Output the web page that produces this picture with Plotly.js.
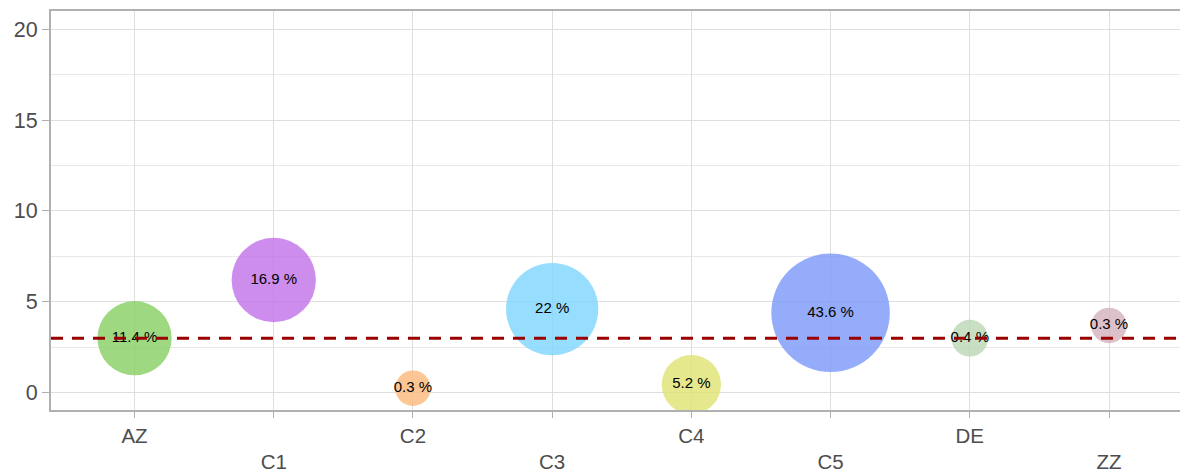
<!DOCTYPE html>
<html>
<head>
<meta charset="utf-8">
<script src="https://cdn.plot.ly/plotly-3.0.1.min.js"></script>
<style>html,body{margin:0;padding:0;overflow:hidden;background:#fff}</style>
</head>
<body>
<div id="chart" style="width:1180px;height:472px"></div>
<script>
// Data
const categories = ["AZ", "C1", "C2", "C3", "C4", "C5", "DE", "ZZ"];
const yValues = [3.0, 6.2, 0.25, 4.6, 0.45, 4.4, 3.0, 3.7];
const shares = [11.4, 16.9, 0.3, 22, 5.2, 43.6, 0.4, 0.3];
const shareLabels = ["11.4 %", "16.9 %", "0.3 %", "22 %", "5.2 %", "43.6 %", "0.4 %", "0.3 %"];
const referenceLevel = 3;

// Styles
const colors = ["#86d062", "#c070e8", "#fdb87a", "#7dd5fc", "#dfe270", "#7a97f9", "#bcd7b5", "#d4b2bd"];
const idx = categories.map((c, i) => i);
const sizes = shares.map(p => 28 + 13.7 * Math.sqrt(p));
const tickText = categories.map((c, i) => (i % 2 === 1 ? "<br>" + c : c));

const trace = {
  type: "scatter",
  mode: "markers+text",
  x: idx,
  y: yValues,
  text: shareLabels,
  textposition: "middle center",
  textfont: {family: "Liberation Sans, Arial, sans-serif", size: 15, color: "#000"},
  marker: {size: sizes, sizemode: "diameter", color: colors, opacity: 0.8, line: {width: 0}},
  hoverinfo: "text",
  showlegend: false
};

const layout = {
  width: 1180,
  height: 472,
  margin: {l: 51, r: 0, t: 11, b: 62},
  paper_bgcolor: "#fff",
  plot_bgcolor: "#fff",
  font: {family: "Liberation Sans, Arial, sans-serif", size: 21, color: "#4d4d4d"},
  xaxis: {
    range: [-0.6, 7.51],
    tickvals: idx,
    ticktext: tickText,
    showgrid: true,
    gridcolor: "#dedede",
    gridwidth: 1,
    zeroline: false,
    showline: true,
    linecolor: "#b0b0b0",
    linewidth: 2,
    mirror: true,
    ticks: "outside",
    ticklen: 6,
    tickcolor: "#b0b0b0",
    tickfont: {size: 20.5, color: "#4d4d4d"}
  },
  yaxis: {
    range: [-0.95, 21],
    dtick: 5,
    tick0: 0,
    showgrid: true,
    gridcolor: "#dedede",
    gridwidth: 1,
    minor: {dtick: 2.5, showgrid: true, gridcolor: "#e8e8e8", gridwidth: 1},
    zeroline: false,
    showline: true,
    linecolor: "#b0b0b0",
    linewidth: 2,
    ticks: "outside",
    ticklen: 7,
    tickcolor: "#b0b0b0",
    tickfont: {size: 21.5, color: "#4d4d4d"}
  },
  shapes: [{
    type: "line",
    xref: "paper",
    yref: "y",
    x0: 0, x1: 1,
    y0: referenceLevel, y1: referenceLevel,
    line: {color: "#9b0000", width: 3, dash: "12px,9px"},
    layer: "above"
  }]
};

Plotly.newPlot("chart", [trace], layout, {displayModeBar: false, staticPlot: true});
</script>
</body>
</html>
